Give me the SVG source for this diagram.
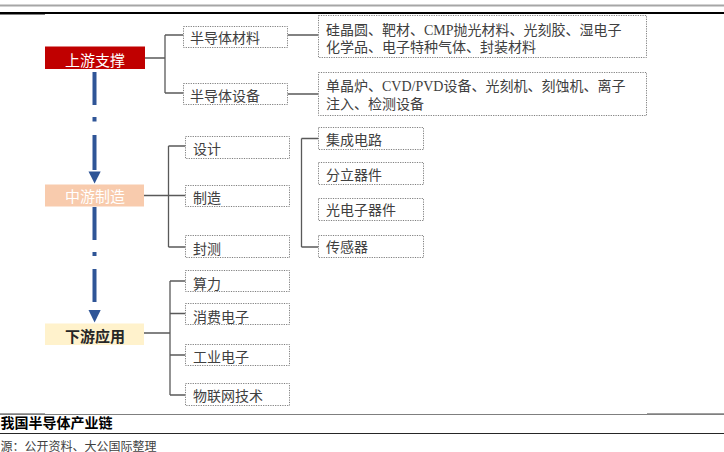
<svg xmlns="http://www.w3.org/2000/svg" width="724" height="452" viewBox="0 0 724 452">
<defs>
<style>
.box{fill:#fff;stroke:#7f7f7f;stroke-width:1;stroke-dasharray:1.2 1.2}
.t{font-family:"Liberation Serif","Noto Sans CJK SC",serif;font-size:14px;fill:#404040}
.lv{font-family:"Liberation Serif","Noto Sans CJK SC",serif;font-size:15px;text-anchor:middle}
.con{fill:none;stroke:#595959;stroke-width:1.3}
.flow{stroke:#2F5597;stroke-width:4;fill:none}
.tri{fill:#2F5597}
</style>
</defs>
<rect width="724" height="452" fill="#fff"/>
<!-- page rules -->
<line x1="0" y1="5.5" x2="724" y2="5.5" stroke="#a6a6a6" stroke-width="2"/>
<line x1="0" y1="13" x2="724" y2="13" stroke="#000" stroke-width="2"/>
<line x1="0" y1="14.5" x2="45" y2="14.5" stroke="#808080" stroke-width="1"/>
<line x1="0" y1="414.5" x2="724" y2="414.5" stroke="#7f7f7f" stroke-width="1"/>
<line x1="0" y1="413.5" x2="45" y2="413.5" stroke="#a0a0a0" stroke-width="1"/>
<line x1="647" y1="413.5" x2="724" y2="413.5" stroke="#a0a0a0" stroke-width="1"/>
<line x1="0" y1="433.5" x2="724" y2="433.5" stroke="#262626" stroke-width="1.2"/>
<text x="0.5" y="428" font-family="'Noto Sans CJK SC',sans-serif" font-size="14" font-weight="bold" fill="#000">我国半导体产业链</text>
<text x="0.5" y="450.5" font-family="'Liberation Serif','Noto Sans CJK SC',serif" font-size="12" fill="#404040">源：公开资料、大公国际整理</text>

<g id="connectors">
<path class="con" d="M145,58H165M165,35V93M165,35H183.5M165,93H183.5M287.5,35H318.5M287.5,94H318.5"/>
<path class="con" d="M144,195.5H185.5M168.5,146V247M168.5,146H185.5M168.5,247H185.5M301.5,138.5V247M301.5,138.5H318.5M301.5,247H318.5"/>
<path class="con" d="M144,333H170M170,281V395M170,281H185.5M170,313.5H185.5M170,355H185.5M170,395H185.5"/>
<g id="flow-arrows">
<path class="flow" d="M94.5,72V105M94.5,117V121.5M94.5,135V170"/>
<polygon class="tri" points="88.5,171.5 100.7,171.5 94.6,183.5"/>
<path class="flow" d="M94.5,207V240M94.5,252V256M94.5,269V302"/>
<polygon class="tri" points="88.5,310 100.7,310 94.6,322.5"/>
</g>
</g>

<g id="upstream">
<rect x="45" y="46.5" width="100" height="22.5" fill="#C00000"/>
<text class="lv" x="95" y="66" fill="#fff">上游支撑</text>
</g>
<g id="midstream">
<rect x="45" y="184.5" width="99" height="22" fill="#F8CBAD"/>
<text class="lv" x="95" y="202" fill="#fff">中游制造</text>
</g>
<g id="downstream">
<rect x="45" y="323.5" width="99" height="21.5" fill="#FFF2CC"/>
<text class="lv" x="95" y="341.5" fill="#262626" font-weight="bold">下游应用</text>
</g>

<g id="materials">
<rect class="box" x="183.5" y="26.5" width="104" height="21"/>
<text class="t" x="190" y="43">半导体材料</text>
</g>
<g id="equipment">
<rect class="box" x="183.5" y="83.5" width="104" height="21"/>
<text class="t" x="190" y="100.5">半导体设备</text>
</g>
<g id="materials-detail">
<rect class="box" x="318.5" y="15.5" width="328" height="42"/>
<text class="t" x="326" y="35">硅晶圆、靶材、CMP抛光材料、光刻胶、湿电子</text>
<text class="t" x="326" y="52">化学品、电子特种气体、封装材料</text>
</g>
<g id="equipment-detail">
<rect class="box" x="318.5" y="72.5" width="328" height="43"/>
<text class="t" x="326" y="91">单晶炉、CVD/PVD设备、光刻机、刻蚀机、离子</text>
<text class="t" x="326" y="109">注入、检测设备</text>
</g>

<g id="design">
<rect class="box" x="185.5" y="136.5" width="104" height="22"/>
<text class="t" x="193" y="153.5">设计</text>
</g>
<g id="manufacturing">
<rect class="box" x="185.5" y="185.5" width="104" height="21"/>
<text class="t" x="193" y="202.5">制造</text>
</g>
<g id="packaging">
<rect class="box" x="185.5" y="235.5" width="104" height="22"/>
<text class="t" x="193" y="253.5">封测</text>
</g>

<g id="ic">
<rect class="box" x="318.5" y="127.5" width="105" height="22"/>
<text class="t" x="326" y="145">集成电路</text>
</g>
<g id="discrete">
<rect class="box" x="318.5" y="162.5" width="105" height="22"/>
<text class="t" x="326" y="180">分立器件</text>
</g>
<g id="optoelectronic">
<rect class="box" x="318.5" y="198.5" width="105" height="22"/>
<text class="t" x="326" y="215">光电子器件</text>
</g>
<g id="sensor">
<rect class="box" x="318.5" y="235.5" width="105" height="22"/>
<text class="t" x="326" y="252">传感器</text>
</g>

<g id="computing">
<rect class="box" x="185.5" y="270.5" width="104" height="21"/>
<text class="t" x="193" y="288.5">算力</text>
</g>
<g id="consumer">
<rect class="box" x="185.5" y="303.5" width="104" height="21"/>
<text class="t" x="193" y="321.5">消费电子</text>
</g>
<g id="industrial">
<rect class="box" x="185.5" y="344.5" width="104" height="21"/>
<text class="t" x="193" y="361.5">工业电子</text>
</g>
<g id="iot">
<rect class="box" x="185.5" y="383.5" width="104" height="22"/>
<text class="t" x="193" y="401">物联网技术</text>
</g>
</svg>
